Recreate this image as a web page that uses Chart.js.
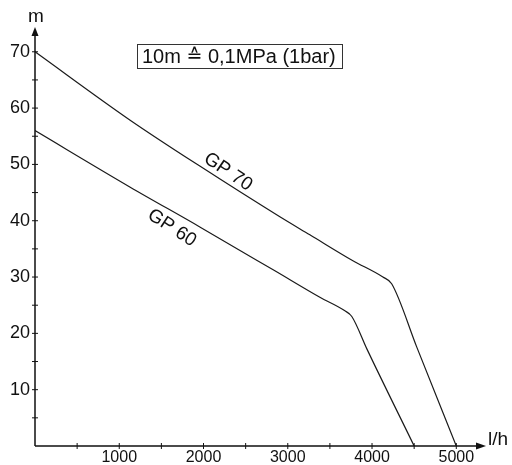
<!DOCTYPE html>
<html>
<head>
<meta charset="utf-8">
<script src="https://cdn.jsdelivr.net/npm/chart.js@4/dist/chart.umd.min.js"></script>
<style>
  body { margin: 0; background: #fff; }
  #wrap { width: 512px; height: 465px; }
</style>
</head>
<body>
<div id="wrap"><canvas id="pumpChart" width="512" height="465"></canvas></div>
<script>
// pump curves
const flowGP70 = [0, 1125, 1956, 2906, 3262, 3773, 4129, 4233, 4530, 5000];
const headGP70 = [70, 57.9, 49.7, 40.7, 37.5, 32.9, 30.0, 28.8, 17.6, 0];
const flowGP60 = [0, 1125, 1956, 2847, 3381, 3678, 3760, 3940, 4500];
const headGP60 = [56, 46.0, 38.9, 31.1, 26.4, 24.0, 23.0, 17.2, 0];

const xTickLabels = [1000, 2000, 3000, 4000, 5000];
const yTickLabels = [10, 20, 30, 40, 50, 60, 70];
const curveNames = ["GP 70", "GP 60"];

const FONT = "Liberation Sans, Arial, sans-serif";

function toPoints(xs, ys) {
    return xs.map((x, i) => ({ x: x, y: ys[i] }));
}

// axis lines, crossing tick marks, arrows, units, note box, curve labels
const drawingPlugin = {
    id: "drawing",
    afterDraw(chart) {
        const ctx = chart.ctx;
        const xs = chart.scales.x;
        const ys = chart.scales.y;
        const area = chart.chartArea;
        const x0 = xs.getPixelForValue(0);
        const y0 = ys.getPixelForValue(0);

        ctx.save();
        ctx.strokeStyle = "#111";
        ctx.fillStyle = "#111";
        ctx.lineWidth = 1.5;

        // axes
        ctx.beginPath();
        ctx.moveTo(x0, y0);
        ctx.lineTo(x0, area.top - 2);
        ctx.moveTo(x0, y0);
        ctx.lineTo(area.right + 2, y0);
        ctx.stroke();

        // arrows
        ctx.beginPath();
        ctx.moveTo(x0, area.top - 9);
        ctx.lineTo(x0 - 3.5, area.top);
        ctx.lineTo(x0 + 3.5, area.top);
        ctx.closePath();
        ctx.fill();
        ctx.beginPath();
        ctx.moveTo(area.right + 10, y0);
        ctx.lineTo(area.right, y0 - 3.5);
        ctx.lineTo(area.right, y0 + 3.5);
        ctx.closePath();
        ctx.fill();

        // tick marks every 500 l/h and every 5 m
        ctx.lineWidth = 1;
        ctx.beginPath();
        xs.ticks.forEach(t => {
            if (t.value > 0) {
                const px = xs.getPixelForValue(t.value);
                ctx.moveTo(px, y0 - 3);
                ctx.lineTo(px, y0 + 3);
            }
        });
        ys.ticks.forEach(t => {
            if (t.value > 0) {
                const py = ys.getPixelForValue(t.value);
                ctx.moveTo(x0 - 3, py);
                ctx.lineTo(x0 + 3, py);
            }
        });
        ctx.stroke();

        // units
        ctx.font = "19px " + FONT;
        ctx.textBaseline = "middle";
        ctx.textAlign = "center";
        ctx.fillText("m", x0 + 1, 17);
        ctx.textAlign = "left";
        ctx.fillText("l/h", area.right + 12, y0 - 6);

        // note box, the "estimates" sign taken from DejaVu
        const parts = [
            ["10m ", "20px " + FONT],
            ["\u2259", "19px DejaVu Sans"],
            [" 0,1MPa (1bar)", "20px " + FONT]
        ];
        let tx = 142;
        ctx.textAlign = "left";
        parts.forEach(p => {
            ctx.font = p[1];
            ctx.fillText(p[0], tx, 57);
            tx += ctx.measureText(p[0]).width;
        });
        ctx.lineWidth = 1;
        ctx.strokeStyle = "#333";
        ctx.strokeRect(137.5, 44.5, 205, 24);

        // curve labels
        ctx.font = "19px " + FONT;
        ctx.textAlign = "center";
        ctx.fillStyle = "#111";
        ctx.save();
        ctx.translate(228, 172);
        ctx.rotate(34 * Math.PI / 180);
        ctx.fillText(curveNames[0], 0, 0);
        ctx.restore();
        ctx.save();
        ctx.translate(172, 228);
        ctx.rotate(33 * Math.PI / 180);
        ctx.fillText(curveNames[1], 0, 0);
        ctx.restore();

        ctx.restore();
    }
};

new Chart(document.getElementById("pumpChart"), {
    type: "line",
    data: {
        datasets: [
            {
                label: curveNames[0],
                data: toPoints(flowGP70, headGP70),
                borderColor: "#1a1a1a",
                borderWidth: 1.2,
                pointRadius: 0,
                cubicInterpolationMode: "monotone",
                fill: false
            },
            {
                label: curveNames[1],
                data: toPoints(flowGP60, headGP60),
                borderColor: "#1a1a1a",
                borderWidth: 1.2,
                pointRadius: 0,
                cubicInterpolationMode: "monotone",
                fill: false
            }
        ]
    },
    options: {
        responsive: false,
        animation: false,
        layout: { padding: { top: 36, right: 36, left: 0, bottom: 0 } },
        plugins: {
            legend: { display: false },
            tooltip: { enabled: false }
        },
        scales: {
            x: {
                type: "linear",
                min: 0,
                max: 5234,
                border: { display: false },
                grid: { display: false, drawTicks: false },
                afterBuildTicks: s => {
                    const t = [];
                    for (let v = 500; v <= 5000; v += 500) t.push({ value: v });
                    s.ticks = t;
                },
                ticks: {
                    autoSkip: false,
                    maxRotation: 0,
                    padding: 2,
                    color: "#111",
                    font: { family: FONT, size: 16 },
                    callback: v => xTickLabels.includes(Math.round(v)) ? String(Math.round(v)) : ""
                },
                afterFit: s => { s.height = 19; }
            },
            y: {
                type: "linear",
                min: 0,
                max: 72.8,
                border: { display: false },
                grid: { display: false, drawTicks: false },
                afterBuildTicks: s => {
                    const t = [];
                    for (let v = 5; v <= 70; v += 5) t.push({ value: v });
                    s.ticks = t;
                },
                ticks: {
                    autoSkip: false,
                    padding: 5,
                    color: "#111",
                    font: { family: FONT, size: 18 },
                    callback: v => yTickLabels.includes(Math.round(v)) ? String(Math.round(v)) : ""
                },
                afterFit: s => { s.width = 35; }
            }
        }
    },
    plugins: [drawingPlugin]
});
</script>
</body>
</html>
